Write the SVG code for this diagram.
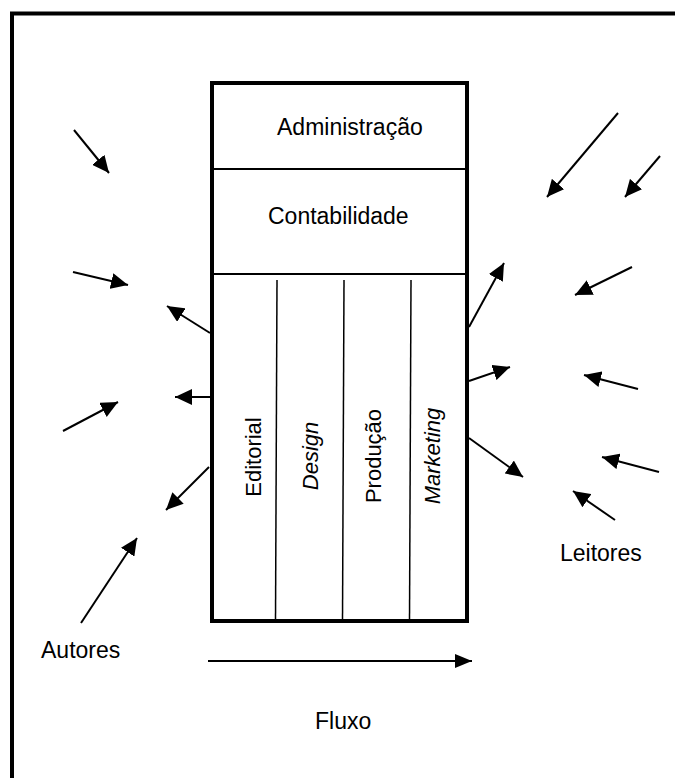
<svg xmlns="http://www.w3.org/2000/svg" width="675" height="778" viewBox="0 0 675 778">
  <defs>
    <style>
      .frame { fill: none; stroke: #000; stroke-width: 4; }
      .box { fill: #fff; stroke: #000; stroke-width: 4; }
      .div { stroke: #000; stroke-width: 2; }
      .col { stroke: #000; stroke-width: 1.5; }
      .arr { stroke: #000; stroke-width: 2; fill: none; marker-end: url(#ah); }
      .flow { stroke: #000; stroke-width: 2; fill: none; marker-end: url(#fh); }
      text { font-family: "Liberation Sans", Arial, sans-serif; font-size: 23px; fill: #000; }
      .v { font-size: 22px; text-anchor: middle; }
      .it { font-style: italic; }
    </style>
    <marker id="ah" markerUnits="userSpaceOnUse" markerWidth="18" markerHeight="16" refX="17" refY="8" orient="auto">
      <path d="M0,0 L17,8 L0,16 z" fill="#000"/>
    </marker>
    <marker id="fh" markerUnits="userSpaceOnUse" markerWidth="18" markerHeight="14" refX="17" refY="7" orient="auto">
      <path d="M0,0 L17,7 L0,14 z" fill="#000"/>
    </marker>
  </defs>
  <rect width="675" height="778" fill="#fff"/>

  <g id="frame">
    <path class="frame" d="M12,780 L12,13.5 L677,13.5"/>
  </g>

  <g id="organizacao">
    <rect class="box" x="212" y="83" width="255" height="538"/>
    <line class="div" x1="212" y1="169" x2="467" y2="169"/>
    <line class="div" x1="212" y1="274" x2="467" y2="274"/>
    <line class="col" x1="277" y1="280" x2="275.5" y2="621"/>
    <line class="col" x1="344" y1="280" x2="342.5" y2="621"/>
    <line class="col" x1="411" y1="280" x2="409.5" y2="621"/>
  </g>

  <g id="administracao">
    <text x="277" y="135">Administração</text>
  </g>
  <g id="contabilidade">
    <text x="268" y="224">Contabilidade</text>
  </g>
  <g id="editorial">
    <text class="v" transform="translate(261,457) rotate(-90)">Editorial</text>
  </g>
  <g id="design">
    <text class="v it" transform="translate(318,456) rotate(-90)">Design</text>
  </g>
  <g id="producao">
    <text class="v" transform="translate(381,456) rotate(-90)">Produção</text>
  </g>
  <g id="marketing">
    <text class="v it" transform="translate(440,456) rotate(-90)">Marketing</text>
  </g>

  <g id="autores">
    <text x="41" y="658">Autores</text>
  </g>
  <g id="leitores">
    <text x="560" y="561">Leitores</text>
  </g>
  <g id="fluxo">
    <text x="315" y="729">Fluxo</text>
  </g>

  <g id="connectors">
    <!-- left side -->
    <line class="arr" x1="74" y1="130" x2="109" y2="173"/>
    <line class="arr" x1="73" y1="272" x2="128" y2="285"/>
    <line class="arr" x1="210" y1="333" x2="167" y2="306"/>
    <line class="arr" x1="210" y1="397" x2="175" y2="397"/>
    <line class="arr" x1="63" y1="431" x2="118" y2="402"/>
    <line class="arr" x1="209" y1="467" x2="166" y2="510"/>
    <line class="arr" x1="81" y1="623" x2="137" y2="538"/>
    <!-- right side -->
    <line class="arr" x1="618" y1="113" x2="547" y2="197"/>
    <line class="arr" x1="660" y1="156" x2="625" y2="197"/>
    <line class="arr" x1="469" y1="327" x2="504" y2="263"/>
    <line class="arr" x1="632" y1="267" x2="575" y2="295"/>
    <line class="arr" x1="469" y1="381" x2="510" y2="367"/>
    <line class="arr" x1="638" y1="389" x2="584" y2="375"/>
    <line class="arr" x1="469" y1="438" x2="523" y2="477"/>
    <line class="arr" x1="659" y1="472" x2="602" y2="457"/>
    <line class="arr" x1="615" y1="520" x2="573" y2="491"/>
    <!-- flow -->
    <line class="flow" x1="208" y1="661" x2="472" y2="661"/>
  </g>
</svg>
